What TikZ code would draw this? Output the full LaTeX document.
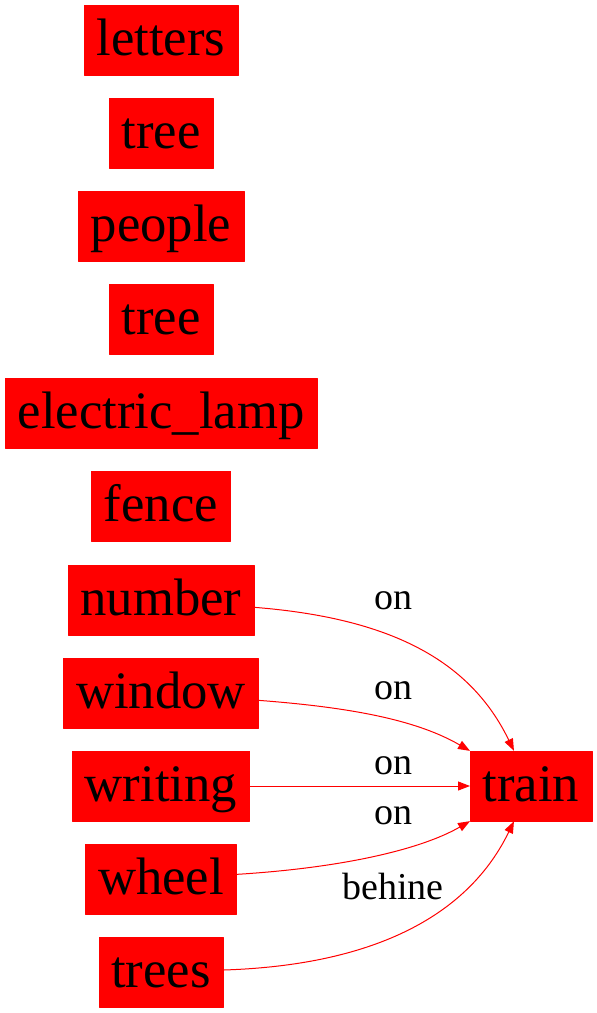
\documentclass[tikz,border=0pt]{standalone}
\usepackage{fontspec}
\setmainfont{Liberation Serif}
\usetikzlibrary{arrows.meta}
\begin{document}
\begin{tikzpicture}[x=1pt, y=-1pt, line cap=round, line join=round, >={Triangle[length=12pt,width=9pt]}]
	\tikzset{box/.style={fill=red, draw=red, inner xsep=12.5pt, inner ysep=0pt, text height=50pt, text depth=20pt, font=\fontsize{52.7}{60}\selectfont},
		elabel/.style={anchor=base, inner sep=0pt, font=\fontsize{38}{44}\selectfont},
		edge/.style={->, draw=red, line width=1pt}}
	\useasboundingbox (0,0) rectangle (597,1013);
	\node[box] (letters) at (161,40) {letters};
	\node[box] (tree1) at (161,133) {tree};
	\node[box] (people) at (161,226) {people};
	\node[box] (tree2) at (161,319) {tree};
	\node[box] (lamp) at (161,413) {electric\_lamp};
	\node[box] (fence) at (161,506) {fence};
	\node[box] (number) at (161,600) {number};
	\node[box] (window) at (161,693) {window};
	\node[box] (writing) at (161,786) {writing};
	\node[box] (wheel) at (161,879) {wheel};
	\node[box] (trees) at (161,972) {trees};
	\node[box] (train) at (531,786) {train};
	\draw[edge] (number) .. controls (390,618) and (470,660) .. (train);
	\draw[edge] (window) .. controls (360,708) and (420,722) .. (train);
	\draw[edge] (writing) -- (train);
	\draw[edge] (wheel) .. controls (340,868) and (420,850) .. (train);
	\draw[edge] (trees) .. controls (380,965) and (470,912) .. (train);
	\node[elabel] (on1) at (393,609) {on};
	\node[elabel] (on2) at (393,699) {on};
	\node[elabel] (on3) at (393,774) {on};
	\node[elabel] (on4) at (393,824) {on};
	\node[elabel] (behine) at (393,899) {behine};
\end{tikzpicture}
\end{document}
